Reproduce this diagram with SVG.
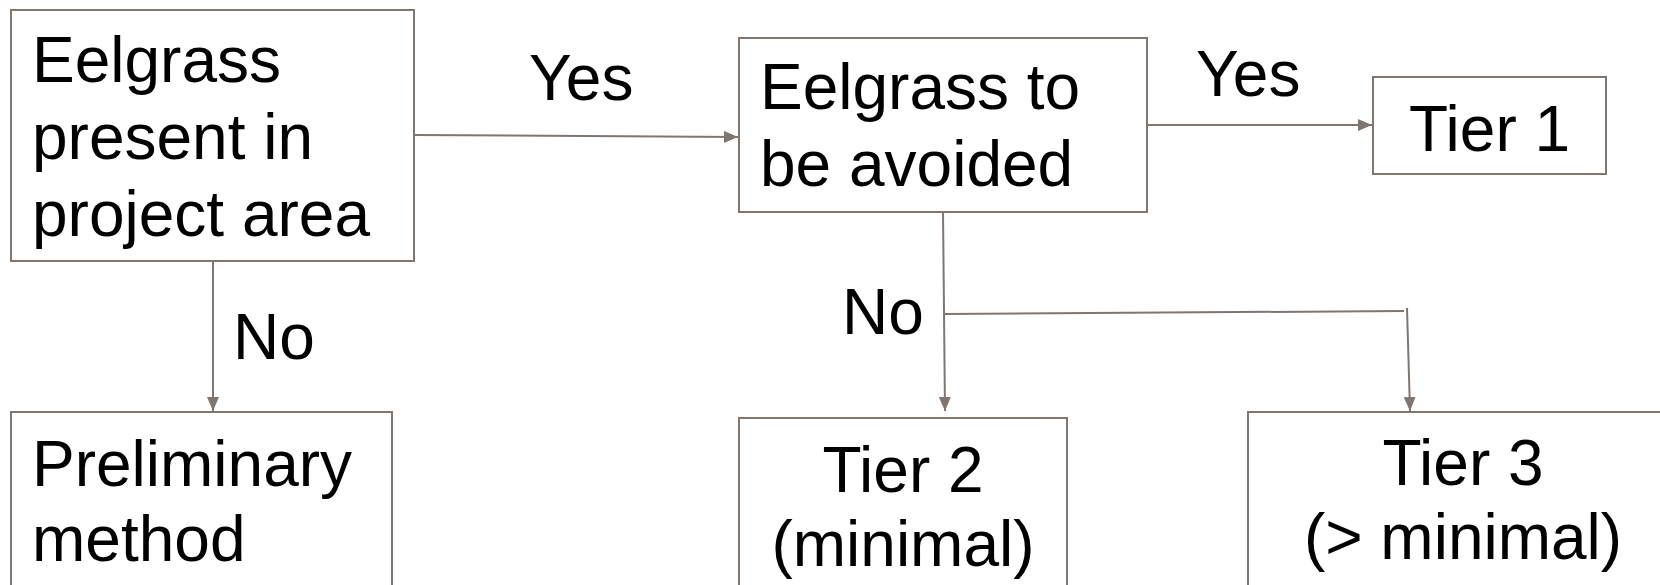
<svg xmlns="http://www.w3.org/2000/svg" width="1660" height="585" viewBox="0 0 1660 585">
<style>
.box{fill:#fff;stroke:#7f7670;stroke-width:2}
.t{font-family:"Liberation Sans",Arial,sans-serif;font-size:64px;fill:#000}
.c{text-anchor:middle}
.ln{fill:none;stroke:#7f7670;stroke-width:2}
</style>
<defs>
<marker id="ah" viewBox="0 0 14 12" refX="14" refY="6" markerWidth="14" markerHeight="12" markerUnits="userSpaceOnUse" orient="auto">
<path d="M0,0 L14,6 L0,12 Z" fill="#7f7670"/>
</marker>
</defs>
<rect width="1660" height="585" fill="#fff"/>
<g id="connectors">
<line class="ln" x1="414" y1="135" x2="738" y2="137" marker-end="url(#ah)"/>
<line class="ln" x1="1147" y1="125" x2="1372" y2="125" marker-end="url(#ah)"/>
<line class="ln" x1="213" y1="261" x2="213" y2="411" marker-end="url(#ah)"/>
<line class="ln" x1="943" y1="212" x2="945" y2="411" marker-end="url(#ah)"/>
<line class="ln" x1="945" y1="314" x2="1404" y2="311"/>
<line class="ln" x1="1407" y1="308" x2="1410" y2="411" marker-end="url(#ah)"/>
<text class="t" x="529" y="100">Yes</text>
<text class="t" x="1196" y="96">Yes</text>
<text class="t" x="233" y="359">No</text>
<text class="t" x="842" y="334">No</text>
</g>
<g id="n1">
<rect class="box" x="11" y="10" width="403" height="251"/>
<text class="t" x="32" y="82">Eelgrass</text>
<text class="t" x="32" y="159">present in</text>
<text class="t" x="32" y="236">project area</text>
</g>
<g id="n2">
<rect class="box" x="739" y="38" width="408" height="174"/>
<text class="t" x="760" y="109">Eelgrass to</text>
<text class="t" x="760" y="186">be avoided</text>
</g>
<g id="n3">
<rect class="box" x="1373" y="77" width="233" height="97"/>
<text class="t c" x="1489.5" y="151">Tier 1</text>
</g>
<g id="n4">
<rect class="box" x="11" y="412" width="381" height="200"/>
<text class="t" x="32" y="486">Preliminary</text>
<text class="t" x="32" y="561">method</text>
</g>
<g id="n5">
<rect class="box" x="739" y="418" width="328" height="200"/>
<text class="t c" x="903" y="492">Tier 2</text>
<text class="t c" x="903" y="566">(minimal)</text>
</g>
<g id="n6">
<rect class="box" x="1248" y="412" width="430" height="200"/>
<text class="t c" x="1463" y="485">Tier 3</text>
<text class="t c" x="1463" y="559">(&gt; minimal)</text>
</g>
</svg>
